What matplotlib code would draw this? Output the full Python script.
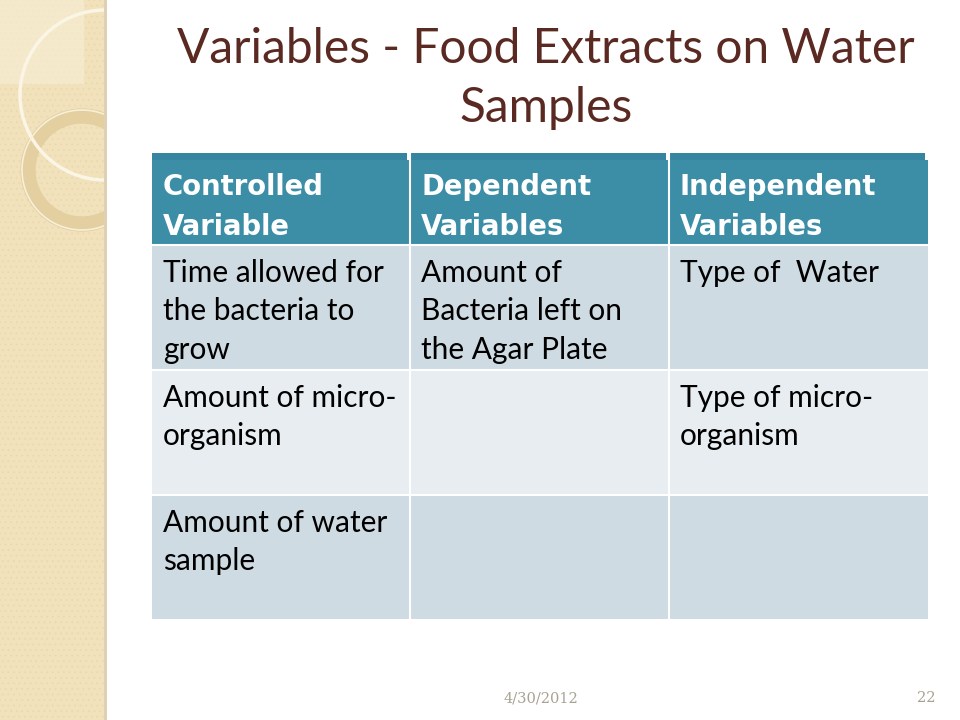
import matplotlib.pyplot as plt
from matplotlib.patches import Rectangle, Circle

# slide text
title_lines = ["Variables - Food Extracts on Water", "Samples"]
headers = ["Controlled\nVariable", "Dependent\nVariables", "Independent\nVariables"]
rows = [
    ["Time allowed for\nthe bacteria to\ngrow", "Amount of\nBacteria left on\nthe Agar Plate", "Type of  Water"],
    ["Amount of micro-\norganism", "", "Type of micro-\norganism"],
    ["Amount of water\nsample", "", ""],
]
footer_date = "4/30/2012"
footer_page = "22"

# table geometry (pixels)
col_edges = [152, 410, 669, 928]
row_edges = [245, 370, 495, 620]
header_top = 160
row_colors = ["#cedbe2", "#e7edf1", "#cedbe2"]
header_color = "#3b8ea6"

fig = plt.figure(figsize=(9.6, 7.2), dpi=100)
ax = fig.add_axes([0, 0, 1, 1])
ax.set_xlim(0, 960)
ax.set_ylim(720, 0)
ax.axis("off")

# left decorative strip
plt.rcParams["hatch.linewidth"] = 0.6
strip = Rectangle((0, 0), 104, 720, facecolor="#f2e2bc", edgecolor="#ead9ae",
                  hatch="...", linewidth=0, zorder=1)
ax.add_patch(strip)
ax.add_patch(Rectangle((0, 0), 84, 84, facecolor="#f7ecd4", alpha=0.7,
                       edgecolor="none", zorder=2))
ax.add_patch(Rectangle((104, 0), 3, 720, facecolor="#ddd0b4", edgecolor="none", zorder=3))
ring1 = Circle((105, 95), 85, fill=False, edgecolor="#fbf5e6", linewidth=2.5, zorder=4)
ring2 = Circle((82, 170), 54, fill=False, edgecolor="#e3cfa0", linewidth=11, zorder=4)
ring2b = Circle((82, 170), 60, fill=False, edgecolor="#f8efd9", linewidth=1.2, zorder=5)
clip = Rectangle((0, 0), 104, 720, transform=ax.transData)
for r in (ring2, ring2b, ring1):
    ax.add_patch(r)
    r.set_clip_path(clip)

# title
title_kw = dict(color="#5a2a22", fontsize=34.5, family="Lato", ha="center", va="baseline")
ax.text(546, 63, title_lines[0], **title_kw)
ax.text(546, 122, title_lines[1], **title_kw)

# header
for i in range(3):
    x0, x1 = col_edges[i], col_edges[i + 1]
    ax.add_patch(Rectangle((x0, 153), x1 - x0 - 3, 8, facecolor="#3585a0",
                           edgecolor="none", zorder=2))
    ax.add_patch(Rectangle((x0, header_top), x1 - x0, row_edges[0] - header_top,
                           facecolor=header_color, edgecolor="none", zorder=2))
    ax.text(x0 + 11, 173, headers[i], color="white", fontsize=19.8, weight="bold",
            family="DejaVu Sans", va="top", ha="left", linespacing=1.55, zorder=5)

# body rows
for r, row in enumerate(rows):
    y0 = row_edges[r]
    y1 = row_edges[r + 1] if r + 1 < len(row_edges) else 620
    for c, txt in enumerate(row):
        x0, x1 = col_edges[c], col_edges[c + 1]
        ax.add_patch(Rectangle((x0, y0), x1 - x0, y1 - y0, facecolor=row_colors[r],
                               edgecolor="none", zorder=2))
        ax.text(x0 + 11, y0 + 14, txt, color="black", fontsize=21.5, family="Lato",
                va="top", ha="left", linespacing=1.45, zorder=5)

# white grid lines
for x in col_edges[1:-1]:
    ax.plot([x, x], [153, 620], color="white", linewidth=1.5, zorder=4)
for y in row_edges:
    ax.plot([col_edges[0], col_edges[-1]], [y, y], color="white", linewidth=1.5, zorder=4)

# footer
ax.text(541, 698, footer_date, color="#a8a293", fontsize=10.5, family="DejaVu Serif",
        ha="center", va="center")
ax.text(935, 698, footer_page, color="#a8a293", fontsize=10.5, family="DejaVu Serif",
        ha="right", va="center")

fig.savefig("out.png", dpi=100)
